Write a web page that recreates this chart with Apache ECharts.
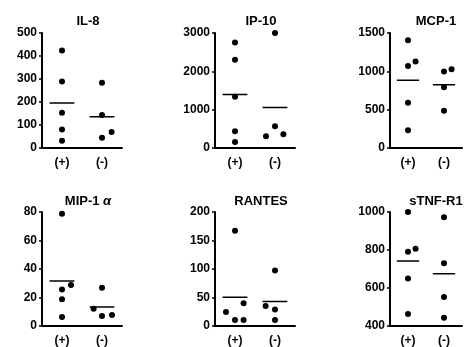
<!DOCTYPE html>
<html>
<head>
<meta charset="utf-8">
<script src="https://cdn.jsdelivr.net/npm/echarts@6/dist/echarts.min.js"></script>
<style>
  html, body { margin: 0; padding: 0; background: #fff; }
  #chart { width: 465px; height: 347px; }
</style>
</head>
<body>
<div id="chart"></div>
<script>
// panel titles, row by row
const titles = ['IL-8', 'IP-10', 'MCP-1', 'MIP-1 {a|α}', 'RANTES', 'sTNF-R1'];
const groupLabels = ['(+)', '(-)'];

// values, (+) group and (-) group
const posValues = [
    [424, 289, 153, 80, 32],
    [2755, 2300, 1338, 437, 157],
    [1404, 1071, 1128, 590, 232],
    [78.8, 25.7, 28.7, 18.7, 6.3],
    [167, 39.7, 24.5, 10.5, 10.5],
    [1000, 791, 807, 650, 463]
];
const negValues = [
    [284, 143, 70, 45],
    [3000, 569, 306, 359],
    [997, 1028, 791, 485],
    [26.8, 12.1, 7, 7.7],
    [97.4, 35, 29, 10.5],
    [972, 730, 553, 443]
];
// horizontal spread of overlapping dots (axis units)
const posJitter = [
    [0, 0, 0, 0, 0],
    [0, 0, 0, 0, 0],
    [0, 0, 0.42, 0, 0],
    [0, 0, 0.45, 0, 0],
    [0, 0.43, -0.45, 0, 0.43],
    [0, 0, 0.42, 0, 0]
];
const negJitter = [
    [0, 0, 0.48, 0],
    [0, 0, -0.45, 0.42],
    [0, 0.42, 0, 0],
    [0, -0.42, 0, 0.5],
    [0, -0.47, 0, 0],
    [0, 0, 0, 0]
];
// y axis per panel
const yMin = [0, 0, 0, 0, 0, 400];
const yMax = [500, 3000, 1500, 80, 200, 1000];
const yStep = [100, 1000, 500, 20, 50, 200];

const chart = echarts.init(document.getElementById('chart'));
const FONT = '"Liberation Sans", Arial, sans-serif';

const colLeft = [42, 215, 390];
const rowTop = [33, 212];
const titleTop = [10, 190];
const centers = [1, 3];

const grids = [], xAxes = [], yAxes = [], series = [], titleList = [];

const mean = arr => arr.reduce((a, b) => a + b, 0) / arr.length;

titles.forEach((t, i) => {
    const col = i % 3, row = Math.floor(i / 3);
    grids.push({ left: colLeft[col], top: rowTop[row], width: 80, height: 115 });
    titleList.push({
        text: t,
        left: colLeft[col] + 41,
        top: titleTop[row],
        textAlign: 'center',
        textStyle: {
            fontFamily: FONT, fontSize: 13, fontWeight: 'bold', color: '#000',
            rich: { a: { fontFamily: FONT, fontSize: 13, fontStyle: 'italic', color: '#000' } }
        }
    });
    xAxes.push({
        gridIndex: i, type: 'value', min: 0, max: 4, interval: 1,
        splitLine: { show: false },
        axisLine: { lineStyle: { color: '#000', width: 2 } },
        axisTick: { show: false },
        axisLabel: {
            margin: 9, fontFamily: FONT, fontSize: 12, fontWeight: 'bold', color: '#000',
            formatter: v => v === centers[0] ? groupLabels[0] : (v === centers[1] ? groupLabels[1] : '')
        }
    });
    yAxes.push({
        gridIndex: i, type: 'value', min: yMin[i], max: yMax[i], interval: yStep[i],
        splitLine: { show: false },
        axisLine: { show: true, lineStyle: { color: '#000', width: 2 } },
        axisTick: { show: true, length: 3, lineStyle: { color: '#000', width: 1.5 } },
        axisLabel: {
            margin: 5, fontFamily: FONT, fontSize: 12, fontWeight: 'bold', color: '#000',
            formatter: v => String(v)
        }
    });

    [[posValues[i], posJitter[i]], [negValues[i], negJitter[i]]].forEach(([vals, jit], g) => {
        series.push({
            type: 'scatter', xAxisIndex: i, yAxisIndex: i,
            symbolSize: 6, itemStyle: { color: '#000', opacity: 1 },
            data: vals.map((v, k) => [centers[g] + jit[k], v]),
            z: 3
        });
        const m = mean(vals);
        series.push({
            type: 'line', xAxisIndex: i, yAxisIndex: i,
            symbol: 'none', lineStyle: { color: '#000', width: 1.5 },
            data: [[centers[g] - 0.62, m], [centers[g] + 0.62, m]],
            z: 2
        });
    });
});

chart.setOption({
    animation: false,
    backgroundColor: '#fff',
    title: titleList,
    grid: grids,
    xAxis: xAxes,
    yAxis: yAxes,
    series: series
});
</script>
</body>
</html>
